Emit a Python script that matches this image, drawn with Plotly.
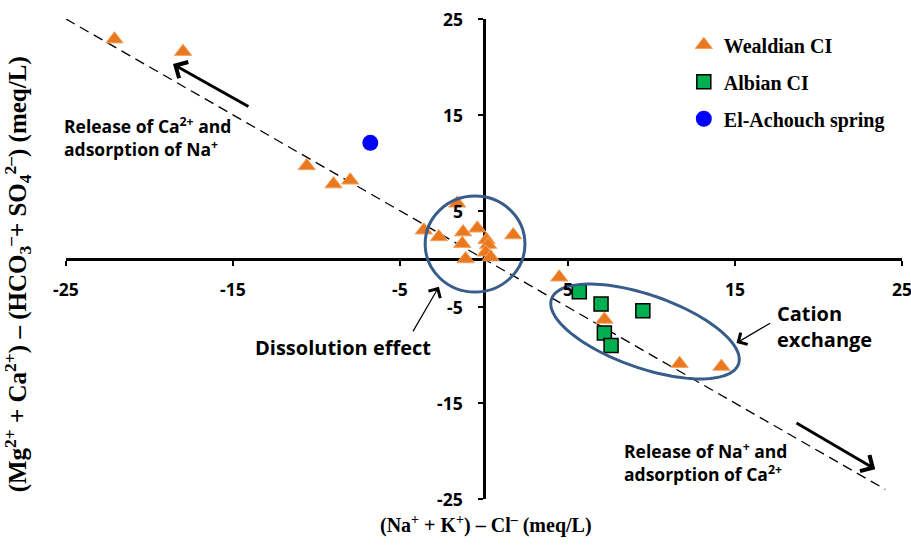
import numpy as np
import plotly.graph_objects as go

# ---------------- data ----------------
wealdian_x = [-22.1, -18.0, -10.6, -9.0, -8.0, -1.6, -3.6, -2.7, -1.25, -0.4, -1.3, -1.1,
              0.15, 0.25, 0.1, 0.4, 1.75, 4.5, 7.2, 11.7, 14.2]
wealdian_y = [22.9, 21.6, 9.7, 7.8, 8.2, 5.8, 3.0, 2.3, 2.8, 3.2, 1.6, 0.0,
              2.0, 1.5, 0.7, 0.2, 2.5, -1.9, -6.3, -10.9, -11.2]
albian_x = [5.7, 7.0, 9.5, 7.2, 7.6]
albian_y = [-3.4, -4.7, -5.4, -7.7, -9.0]
spring_x = [-6.8]
spring_y = [12.1]
ref_line_x = [-25, 24]
ref_line_y = [25, -24]
tick_vals = [-25, -15, -5, 5, 15, 25]
tick_text = ["-25", "-15", "-5", "5", "15", "25"]

# pixel scale helpers (for decorative shapes only)
PX_PER_X = 836 / 50.0
PX_PER_Y = 480 / 50.0

SANS = "Open Sans"
SERIF = "Liberation Serif"
ELL_COLOR = "#385D8A"
TICK_FONT = dict(family=SANS, size=17.5, color="black", weight="bold")

fig = go.Figure()

fig.add_trace(go.Scatter(x=ref_line_x, y=ref_line_y, mode="lines",
                         line=dict(color="black", width=1.3, dash="10px,6px"),
                         showlegend=False, hoverinfo="skip"))

fig.add_trace(go.Scatter(x=wealdian_x, y=wealdian_y, mode="markers", name="Wealdian CI",
                         legendgroup="a",
                         marker=dict(symbol="triangle-up", size=15, color="#E9781E",
                                     line=dict(color="#F4A261", width=1))))
fig.add_trace(go.Scatter(x=albian_x, y=albian_y, mode="markers", name="Albian CI",
                         legendgroup="b",
                         marker=dict(symbol="square", size=14, color="#00B050",
                                     line=dict(color="black", width=1.5))))
fig.add_trace(go.Scatter(x=spring_x, y=spring_y, mode="markers", name="El-Achouch spring",
                         legendgroup="c",
                         marker=dict(symbol="circle", size=16, color="#0000FF",
                                     line=dict(width=0))))

# circle around the dissolution cluster
fig.add_shape(type="circle", xref="x", yref="y", x0=-3.52, x1=2.45, y0=-3.44, y1=6.56,
              line=dict(color=ELL_COLOR, width=3))

# rotated ellipse for cation exchange
cx, cy = 9.63, -7.55
a_px, b_px, th = 99.0, 36.5, np.deg2rad(19.2)
t = np.linspace(0, 2 * np.pi, 121)
dpx = a_px * np.cos(t) * np.cos(th) - b_px * np.sin(t) * np.sin(th)
dpy = a_px * np.cos(t) * np.sin(th) + b_px * np.sin(t) * np.cos(th)
ex = cx + dpx / PX_PER_X
ey = cy - dpy / PX_PER_Y
path = "M " + " L ".join(f"{x:.3f},{y:.3f}" for x, y in zip(ex, ey)) + " Z"
fig.add_shape(type="path", xref="x", yref="y", path=path,
              line=dict(color=ELL_COLOR, width=3))

# arrows
def arrow(tail, head, width, size):
    fig.add_annotation(x=head[0], y=head[1], ax=tail[0], ay=tail[1],
                       xref="x", yref="y", axref="x", ayref="y", text="",
                       showarrow=True, arrowhead=4, arrowwidth=width,
                       arrowsize=size, arrowcolor="black")

arrow((-14.0, 15.8), (-18.6, 20.3), 3, 1.2)
arrow((18.6, -17.0), (23.4, -21.9), 3, 1.2)
arrow((-4.3, -7.7), (-2.7, -2.9), 1.2, 2.2)
arrow((17.2, -6.6), (15.1, -8.75), 1.2, 2.2)

def label(text, x, y, size, xanchor="left", align="left", xref="x"):
    fig.add_annotation(x=x, y=y, xref=xref, yref="y", text=text, showarrow=False,
                       xanchor=xanchor, yanchor="middle", align=align,
                       font=dict(family=SANS, size=size, color="black", weight="bold"))

label("Release of Ca<sup>2+</sup> and<br>adsorption of Na<sup>+</sup>", -0.005, 12.7, 17.5, xref="paper")
label("Dissolution effect", -8.43, -9.27, 20, xanchor="center", align="center")
label("Cation<br>exchange", 17.4, -7.03, 20)
label("Release of Na<sup>+</sup> and<br>adsorption of Ca<sup>2+</sup>", 8.25, -21.1, 17.5)

# tick labels for the crossing axes (placed next to the axis lines through 0)
for v, s in zip(tick_vals, tick_text):
    fig.add_annotation(x=v, y=0, xref="x", yref="y", text=s, showarrow=False,
                       xanchor="center", yanchor="middle", yshift=-30, font=TICK_FONT)
    fig.add_annotation(x=0, y=v, xref="x", yref="y", text=s, showarrow=False,
                       xanchor="right", yanchor="middle", xshift=-19, font=TICK_FONT)

# axis titles
fig.add_annotation(x=0.502, y=-0.054, xref="paper", yref="paper", showarrow=False,
                   text="(Na<sup>+</sup> + K<sup>+</sup>) – Cl<sup>–</sup> (meq/L)",
                   xanchor="center", yanchor="middle",
                   font=dict(family=SERIF, size=20, color="black", weight="bold"))
fig.add_annotation(x=-0.0574, y=0.468, xref="paper", yref="paper", showarrow=False,
                   textangle=-90,
                   text="(Mg<sup>2+</sup> + Ca<sup>2+</sup>) – (HCO<sub>3</sub><sup>–</sup>+ SO<sub>4</sub><sup>2–</sup>) (meq/L)",
                   xanchor="center", yanchor="middle",
                   font=dict(family=SERIF, size=25, color="black", weight="bold"))

def axis():
    return dict(range=[-25, 25], tickvals=tick_vals, ticktext=tick_text,
                ticks="outside", ticklen=5, showticklabels=False,
                tickwidth=2, tickcolor="black", showline=True, linewidth=3,
                linecolor="black", showgrid=False, zeroline=False,
                anchor="free", position=0.5, automargin=False,
                layer="below traces")

fig.update_layout(
    width=911, height=545,
    margin=dict(l=66, r=9, t=19, b=46, autoexpand=False),
    plot_bgcolor="white", paper_bgcolor="white",
    xaxis=axis(),
    yaxis=axis(),
    legend=dict(x=0.739, y=0.987, xanchor="left", yanchor="top",
                bgcolor="rgba(0,0,0,0)", tracegroupgap=8,
                font=dict(family=SERIF, size=20, color="black", weight="bold")),
    showlegend=True,
)

fig.write_html("out.html")
